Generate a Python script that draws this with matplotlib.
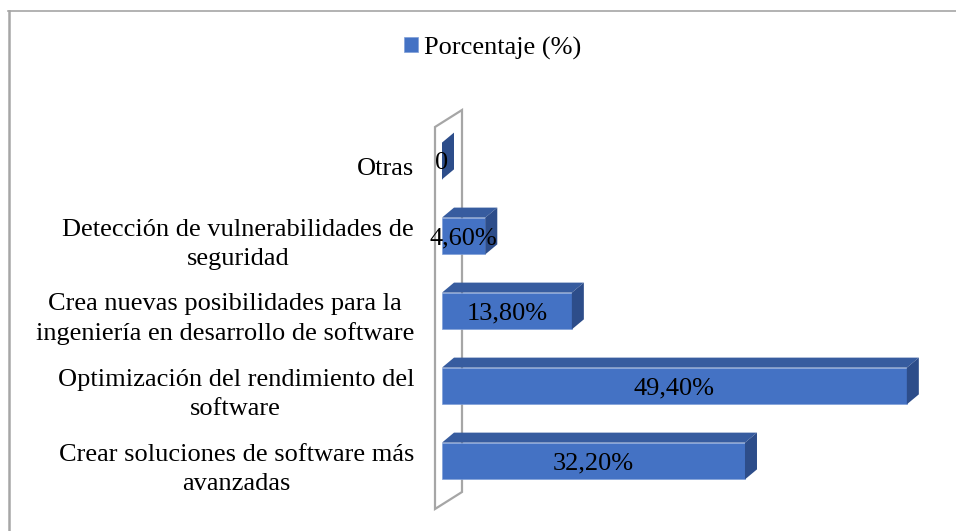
import matplotlib
matplotlib.use("Agg")
import matplotlib.pyplot as plt
import matplotlib.transforms as mtransforms
from matplotlib.patches import Polygon
from matplotlib.lines import Line2D

# --------------------------
# DATA
# --------------------------
categories = [
    "Crear soluciones de software más\navanzadas",
    "Optimización del rendimiento del\nsoftware",
    "Crea nuevas posibilidades para la\ningeniería en desarrollo de software",
    "Detección de vulnerabilidades de\nseguridad",
    "Otras",
]
values = [32.2, 49.4, 13.8, 4.6, 0]
value_labels = ["32,20%", "49,40%", "13,80%", "4,60%", "0"]
series_name = "Porcentaje (%)"

# --------------------------
# STYLE
# --------------------------
plt.rcParams['font.family'] = ['Liberation Serif', 'DejaVu Serif']
FONT = 19
FRONT = "#4472C4"
TOP = "#375C9F"
SIDE = "#2D4D8A"
WALL = "#A6A6A6"
DEPTH = (12, 10)        # 3d depth of bars, in pixels (right, up)
WALL_DEPTH = (27, 17)   # depth of back wall, in pixels
BAR_H = 0.49

W, H = 956, 531
fig = plt.figure(figsize=(W / 100, H / 100), dpi=100)
ax = fig.add_axes([435 / W, 1 - 509 / H, 496.3 / W, 382 / H])
ax.set_xlim(-0.744, 52)
ax.set_ylim(-0.64, 4.453)
ax.axis('off')

pos = list(range(len(values)))


def shifted(x, y, d):
    # move a data point by d pixels in display space
    px, py = ax.transData.transform((x, y))
    return ax.transData.inverted().transform((px + d[0], py + d[1]))


# back wall (drawn behind bars)
x0, x1 = ax.get_xlim()
y0, y1 = ax.get_ylim()
bl, tl = (x0, y0), (x0, y1)
br, tr = shifted(x0, y0, WALL_DEPTH), shifted(x0, y1, WALL_DEPTH)
wall = Polygon([bl, tl, tr, br], closed=True, fill=False,
               edgecolor=WALL, lw=1.6, zorder=1, clip_on=False)
ax.add_patch(wall)

# bars with fake 3d faces
bars = ax.barh(pos, values, height=BAR_H, color=FRONT, edgecolor="#7F9FD8",
               linewidth=0.5, zorder=3, label=series_name)
for p, v in zip(pos, values):
    yb, yt = p - BAR_H / 2, p + BAR_H / 2
    top = [(0, yt), (v, yt), shifted(v, yt, DEPTH), shifted(0, yt, DEPTH)]
    side = [(v, yb), (v, yt), shifted(v, yt, DEPTH), shifted(v, yb, DEPTH)]
    ax.add_patch(Polygon(top, closed=True, facecolor=TOP, edgecolor="none",
                         zorder=3, clip_on=False))
    ax.add_patch(Polygon(side, closed=True, facecolor=SIDE, edgecolor="none",
                         zorder=3, clip_on=False))

# value labels
for p, v, lab in zip(pos, values, value_labels):
    ax.text(v / 2, p - 0.03, lab, ha='center', va='center',
            fontsize=FONT, zorder=5)

# category labels
lab_tr = mtransforms.blended_transform_factory(ax.transAxes, ax.transData)
for p, cat in zip(pos, categories):
    ax.text(-21 / 496.3, p - 0.11, cat, ha='right', va='center',
            multialignment='center', fontsize=FONT, transform=lab_tr,
            linespacing=1.4)

# legend
fig.legend(handles=[bars], labels=[series_name], loc='center',
           bbox_to_anchor=(493 / W, 1 - 48 / H), frameon=False,
           fontsize=FONT, handlelength=0.5, handleheight=0.5,
           handletextpad=0.25)

# chart area border (top and left edges visible)
fig.add_artist(Line2D([8 / W, 1], [1 - 11 / H, 1 - 11 / H],
                      transform=fig.transFigure, color=WALL, lw=1.2))
fig.add_artist(Line2D([9 / W, 9 / W], [0, 1 - 11 / H],
                      transform=fig.transFigure, color=WALL, lw=1.8))

fig.savefig("out.png", dpi=100)
